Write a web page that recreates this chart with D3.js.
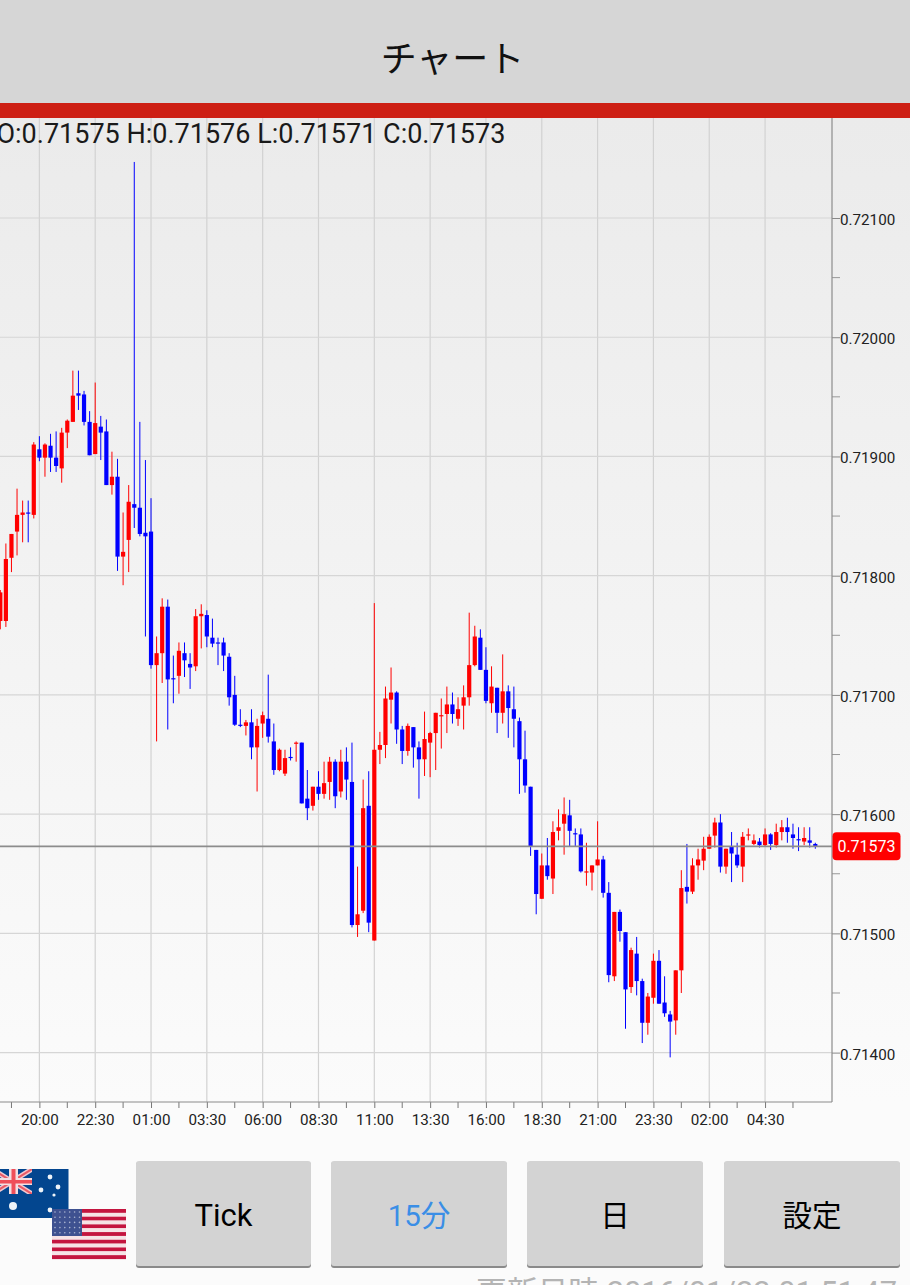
<!DOCTYPE html>
<html><head><meta charset="utf-8">
<script src="https://cdn.jsdelivr.net/npm/d3@7"></script>
<style>
html,body{margin:0;padding:0;background:#fafafa;overflow:hidden}
svg{display:block}
text{font-family:Roboto,"Noto Sans CJK JP",sans-serif}
</style></head><body>
<svg id="c" width="910" height="1285"></svg>
<script>
// Prices in units of 0.00001
const opens=[71762,71762,71815,71837,71851,71853,71851,71906,71899,71909,71899,71890,71920,71929,71953,71952,71929,71902,71925,71921,71876,71883,71816,71830,71860,71857,71836,71837,71725,71735,71774,71714,71716,71735,71726,71724,71766,71767,71748,71744,71744,71732,71700,71675,71674,71677,71656,71676,71680,71661,71637,71634,71648,71659,71660,71613,71607,71623,71617,71627,71644,71619,71644,71627,71507,71519,71607,71494,71654,71658,71696,71702,71671,71653,71673,71656,71646,71660,71668,71682,71684,71692,71680,71691,71698,71725,71748,71721,71693,71706,71685,71703,71688,71678,71646,71623,71570,71529,71557,71546,71586,71592,71599,71584,71583,71551,71551,71557,71562,71534,71464,71518,71501,71455,71483,71460,71425,71446,71477,71442,71432,71427,71469,71539,71535,71557,71561,71571,71582,71593,71556,71573,71566,71556,71582,71575,71577,71574,71583,71574,71585,71589,71583,71579,71577,71578,71575];
const highs=[71788,71827,71835,71873,71863,71863,71912,71917,71911,71919,71921,71924,71931,71972,71972,71955,71938,71962,71934,71931,71904,71898,71853,71876,72147,71929,71897,71865,71749,71781,71780,71733,71744,71744,71735,71772,71776,71771,71764,71748,71748,71735,71716,71688,71679,71688,71680,71686,71717,71676,71655,71654,71656,71661,71660,71637,71623,71636,71644,71648,71646,71654,71656,71660,71556,71629,71636,71777,71669,71707,71723,71703,71674,71676,71673,71661,71686,71669,71685,71697,71707,71702,71698,71708,71769,71758,71755,71740,71724,71706,71734,71708,71707,71681,71670,71623,71570,71567,71580,71594,71604,71614,71612,71588,71588,71576,71557,71594,71565,71543,71518,71520,71501,71488,71497,71462,71450,71483,71486,71464,71435,71469,71553,71575,71563,71571,71581,71583,71597,71600,71571,71585,71576,71585,71588,71583,71580,71588,71584,71592,71595,71597,71592,71589,71589,71589,71576];
const lows=[71755,71757,71803,71817,71828,71828,71848,71896,71883,71887,71887,71878,71907,71929,71939,71926,71901,71902,71897,71876,71868,71804,71792,71803,71840,71833,71749,71722,71661,71710,71671,71693,71701,71715,71705,71720,71739,71740,71740,71725,71720,71691,71674,71673,71666,71646,71619,71664,71660,71633,71636,71632,71645,71644,71609,71595,71603,71612,71613,71612,71605,71614,71612,71505,71497,71517,71501,71494,71642,71647,71676,71659,71642,71649,71639,71613,71632,71631,71637,71655,71668,71676,71674,71671,71691,71724,71721,71693,71685,71668,71676,71664,71656,71617,71618,71565,71516,71529,71545,71533,71578,71566,71573,71573,71551,71540,71536,71557,71530,71459,71460,71493,71420,71450,71448,71408,71415,71441,71441,71430,71396,71415,71450,71525,71533,71545,71553,71571,71572,71551,71550,71543,71555,71543,71578,71574,71572,71573,71570,71572,71578,71576,71571,71569,71574,71572,71571];
const closes=[71786,71814,71835,71851,71853,71852,71910,71899,71910,71899,71892,71920,71930,71951,71951,71929,71901,71928,71920,71876,71883,71816,71820,71862,71857,71835,71833,71725,71735,71774,71713,71713,71737,71729,71723,71766,71768,71749,71743,71743,71733,71698,71675,71674,71677,71656,71674,71683,71665,71637,71654,71647,71647,71660,71609,71605,71623,71617,71626,71644,71615,71644,71629,71507,71516,71605,71509,71654,71658,71697,71702,71671,71653,71674,71656,71646,71663,71668,71685,71683,71692,71684,71688,71698,71725,71749,71721,71695,71707,71685,71703,71689,71680,71646,71624,71573,71533,71557,71548,71585,71589,71600,71586,71583,71552,71552,71557,71562,71534,71465,71518,71502,71453,71486,71460,71425,71447,71477,71441,71433,71426,71469,71538,71535,71557,71562,71571,71581,71593,71556,71571,71567,71557,71581,71583,71578,71574,71583,71575,71585,71589,71585,71580,71578,71580,71576,71573];
const timeLabels=["20:00","22:30","01:00","03:30","06:00","08:30","11:00","13:30","16:00","18:30","21:00","23:30","02:00","04:30"];
const firstLabelIndex=7, labelEvery=10, minorEvery=5;
const priceTicks=[72100,72000,71900,71800,71700,71600,71500,71400];
const minorPriceTicks=[72050,71950,71850,71750,71650,71550,71450];
const lastPrice=71573;
const ohlcText="O:0.71575 H:0.71576 L:0.71571 C:0.71573";
const buttons=[["Tick",136,311,"#000"],["15分",331,507,"#3a8ee6"],["日",527,703,"#000"],["設定",724,900,"#000"]];

const svg=d3.select("#c");
const defs=svg.append("defs");
const g=defs.append("linearGradient").attr("id","bg").attr("x1",0).attr("x2",0).attr("y1",0).attr("y2",1);
g.append("stop").attr("offset",0).attr("stop-color","#ebebeb");
g.append("stop").attr("offset",1).attr("stop-color","#fbfbfb");
defs.append("clipPath").attr("id","plot").append("rect").attr("x",0).attr("y",118).attr("width",832).attr("height",984);
defs.append("clipPath").attr("id","au").append("rect").attr("x",0).attr("y",1169).attr("width",32).attr("height",25);

svg.append("rect").attr("width",910).attr("height",1285).attr("fill","#fbfbfb");
svg.append("rect").attr("y",118).attr("width",910).attr("height",984).attr("fill","url(#bg)");
svg.append("rect").attr("width",910).attr("height",103).attr("fill","#d6d6d6");
svg.append("rect").attr("y",103).attr("width",910).attr("height",15).attr("fill","#cd1f14");
svg.append("text").attr("x",452.5).attr("y",71.5).attr("text-anchor","middle").attr("font-size",36).attr("fill","#111").attr("font-family","'Noto Sans CJK JP'").text("チャート");

const x=d3.scaleLinear().domain([0,146]).range([0.3,815.3]);
const y=d3.scaleLinear().domain([72100,71400]).range([218,1052.6]);

const plot=svg.append("g").attr("clip-path","url(#plot)");
const labelIdx=timeLabels.map((_,i)=>firstLabelIndex+i*labelEvery);
plot.selectAll("line.v").data(labelIdx).join("line").attr("class","v")
 .attr("x1",d=>x(d)).attr("x2",d=>x(d)).attr("y1",118).attr("y2",1102).attr("stroke","#d2d2d2").attr("stroke-width",1.2);
plot.selectAll("line.h").data(priceTicks).join("line").attr("class","h")
 .attr("x1",0).attr("x2",832).attr("y1",d=>y(d)).attr("y2",d=>y(d)).attr("stroke","#d6d6d6").attr("stroke-width",1.2);

const idx=d3.range(opens.length);
const candle=i=>closes[i]>=opens[i]?"#ff0000":"#0000ff";
plot.selectAll("line.w").data(idx).join("line").attr("class","w")
 .attr("x1",i=>x(i)).attr("x2",i=>x(i)).attr("y1",i=>y(highs[i])).attr("y2",i=>y(lows[i]))
 .attr("stroke",candle).attr("stroke-width",1);
plot.selectAll("rect.b").data(idx).join("rect").attr("class","b")
 .attr("x",i=>x(i)-2.1).attr("width",4.2)
 .attr("y",i=>y(Math.max(opens[i],closes[i])))
 .attr("height",i=>Math.max(1,Math.abs(y(opens[i])-y(closes[i]))))
 .attr("fill",candle);
plot.append("line").attr("x1",0).attr("x2",832).attr("y1",y(lastPrice)).attr("y2",y(lastPrice)).attr("stroke","#8c8c8c").attr("stroke-width",1.6);

svg.append("text").attr("x",-3.5).attr("y",143).attr("font-size",27).attr("fill","#1a1a1a").text(ohlcText);

// axes
const yAxis=d3.axisRight(y).tickValues(priceTicks).tickSize(8).tickPadding(0).tickFormat(d=>(d/100000).toFixed(5));
const ya=svg.append("g").attr("transform","translate(832,0)").call(yAxis);
ya.select(".domain").remove();
ya.selectAll("line").attr("stroke","#888");
ya.selectAll("text").attr("font-size",15.2).attr("fill","#222").attr("dy","1.05em").attr("transform","translate(0,-9.5)");
svg.append("g").selectAll("line").data(minorPriceTicks).join("line").attr("x1",832).attr("x2",840)
 .attr("y1",d=>y(d)).attr("y2",d=>y(d)).attr("stroke","#999");
svg.append("line").attr("x1",832).attr("x2",832).attr("y1",118).attr("y2",1102).attr("stroke","#8c8c8c").attr("stroke-width",1.2);

const xAxis=d3.axisBottom(x).tickValues(labelIdx).tickSize(6).tickPadding(6).tickFormat((d,i)=>timeLabels[i]);
const xa=svg.append("g").attr("transform","translate(0,1102)").call(xAxis);
xa.select(".domain").remove();
xa.selectAll("line").attr("stroke","#777");
xa.selectAll("text").attr("font-size",15.2).attr("fill","#222");
const minorX=d3.range(2,147,minorEvery).filter(i=>(i-firstLabelIndex)%labelEvery!==0);
svg.append("g").selectAll("line").data(minorX).join("line").attr("x1",d=>x(d)).attr("x2",d=>x(d))
 .attr("y1",1102).attr("y2",1108).attr("stroke","#777");
svg.append("line").attr("x1",0).attr("x2",832).attr("y1",1102).attr("y2",1102).attr("stroke","#8c8c8c").attr("stroke-width",1.2);

// last price label
svg.append("rect").attr("x",832.5).attr("y",y(lastPrice)-14).attr("width",68).attr("height",28).attr("rx",4).attr("fill","#ff0000");
svg.append("text").attr("x",866.5).attr("y",y(lastPrice)+5.6).attr("text-anchor","middle").attr("font-size",16).attr("fill","#fff").text((lastPrice/100000).toFixed(5));

// buttons
const bg=svg.append("g").selectAll("g").data(buttons).join("g");
bg.append("rect").attr("x",d=>d[1]).attr("width",d=>d[2]-d[1]).attr("y",1162).attr("height",106).attr("rx",3).attr("fill","#8a8a8a");
bg.append("rect").attr("x",d=>d[1]).attr("width",d=>d[2]-d[1]).attr("y",1161).attr("height",105).attr("rx",3).attr("fill","#d3d3d3");
bg.append("text").attr("x",d=>(d[1]+d[2])/2).attr("y",1225.5).attr("text-anchor","middle").attr("font-size",d=>d[0]==="Tick"?31:29.5).attr("fill",d=>d[3]).text(d=>d[0]);

// footer
svg.append("text").attr("x",897).attr("y",1303).attr("text-anchor","end").attr("font-size",30.8).attr("fill","#b4b4b4").text("更新日時 2016/01/22 01:51:47");

// flags
const fl=svg.append("g");
fl.append("rect").attr("x",0).attr("y",1169).attr("width",68.5).attr("height",49).attr("fill","#03468f");
const uj=fl.append("g").attr("clip-path","url(#au)");
[[-8,1169,32,1194],[-8,1194,32,1169]].forEach(a=>{
 uj.append("line").attr("x1",a[0]).attr("y1",a[1]).attr("x2",a[2]).attr("y2",a[3]).attr("stroke","#f3c9d0").attr("stroke-width",5);
 uj.append("line").attr("x1",a[0]).attr("y1",a[1]).attr("x2",a[2]).attr("y2",a[3]).attr("stroke","#ea5a66").attr("stroke-width",2);
});
uj.append("rect").attr("x",-2).attr("y",1178).attr("width",34).attr("height",7).attr("fill","#f3dfe2");
uj.append("rect").attr("x",9).attr("y",1169).attr("width",9).attr("height",25).attr("fill","#f3dfe2");
uj.append("rect").attr("x",-2).attr("y",1180).attr("width",34).attr("height",3.5).attr("fill","#ef4f5a");
uj.append("rect").attr("x",11.5).attr("y",1169).attr("width",4).attr("height",25).attr("fill","#ef4f5a");
[[50,1177,2.4],[41,1190,2.4],[58,1187,2.4],[54,1195,1.6],[50,1210,2.4],[13,1206,4]].forEach(s=>
 fl.append("circle").attr("cx",s[0]).attr("cy",s[1]).attr("r",s[2]).attr("fill","#eef3f8"));
d3.range(13).forEach(i=>fl.append("rect").attr("x",52).attr("y",1209+i*50/13).attr("width",74).attr("height",50/13+0.1).attr("fill",i%2?"#f6e3e6":"#c4153f"));
fl.append("rect").attr("x",52).attr("y",1209).attr("width",30).attr("height",27).attr("fill","#3e5190");
d3.range(5).forEach(r=>d3.range(6).forEach(c=>fl.append("circle").attr("cx",55+c*4.9).attr("cy",1212+r*5.2).attr("r",0.8).attr("fill","#aab4d0")));
</script>
</body></html>
